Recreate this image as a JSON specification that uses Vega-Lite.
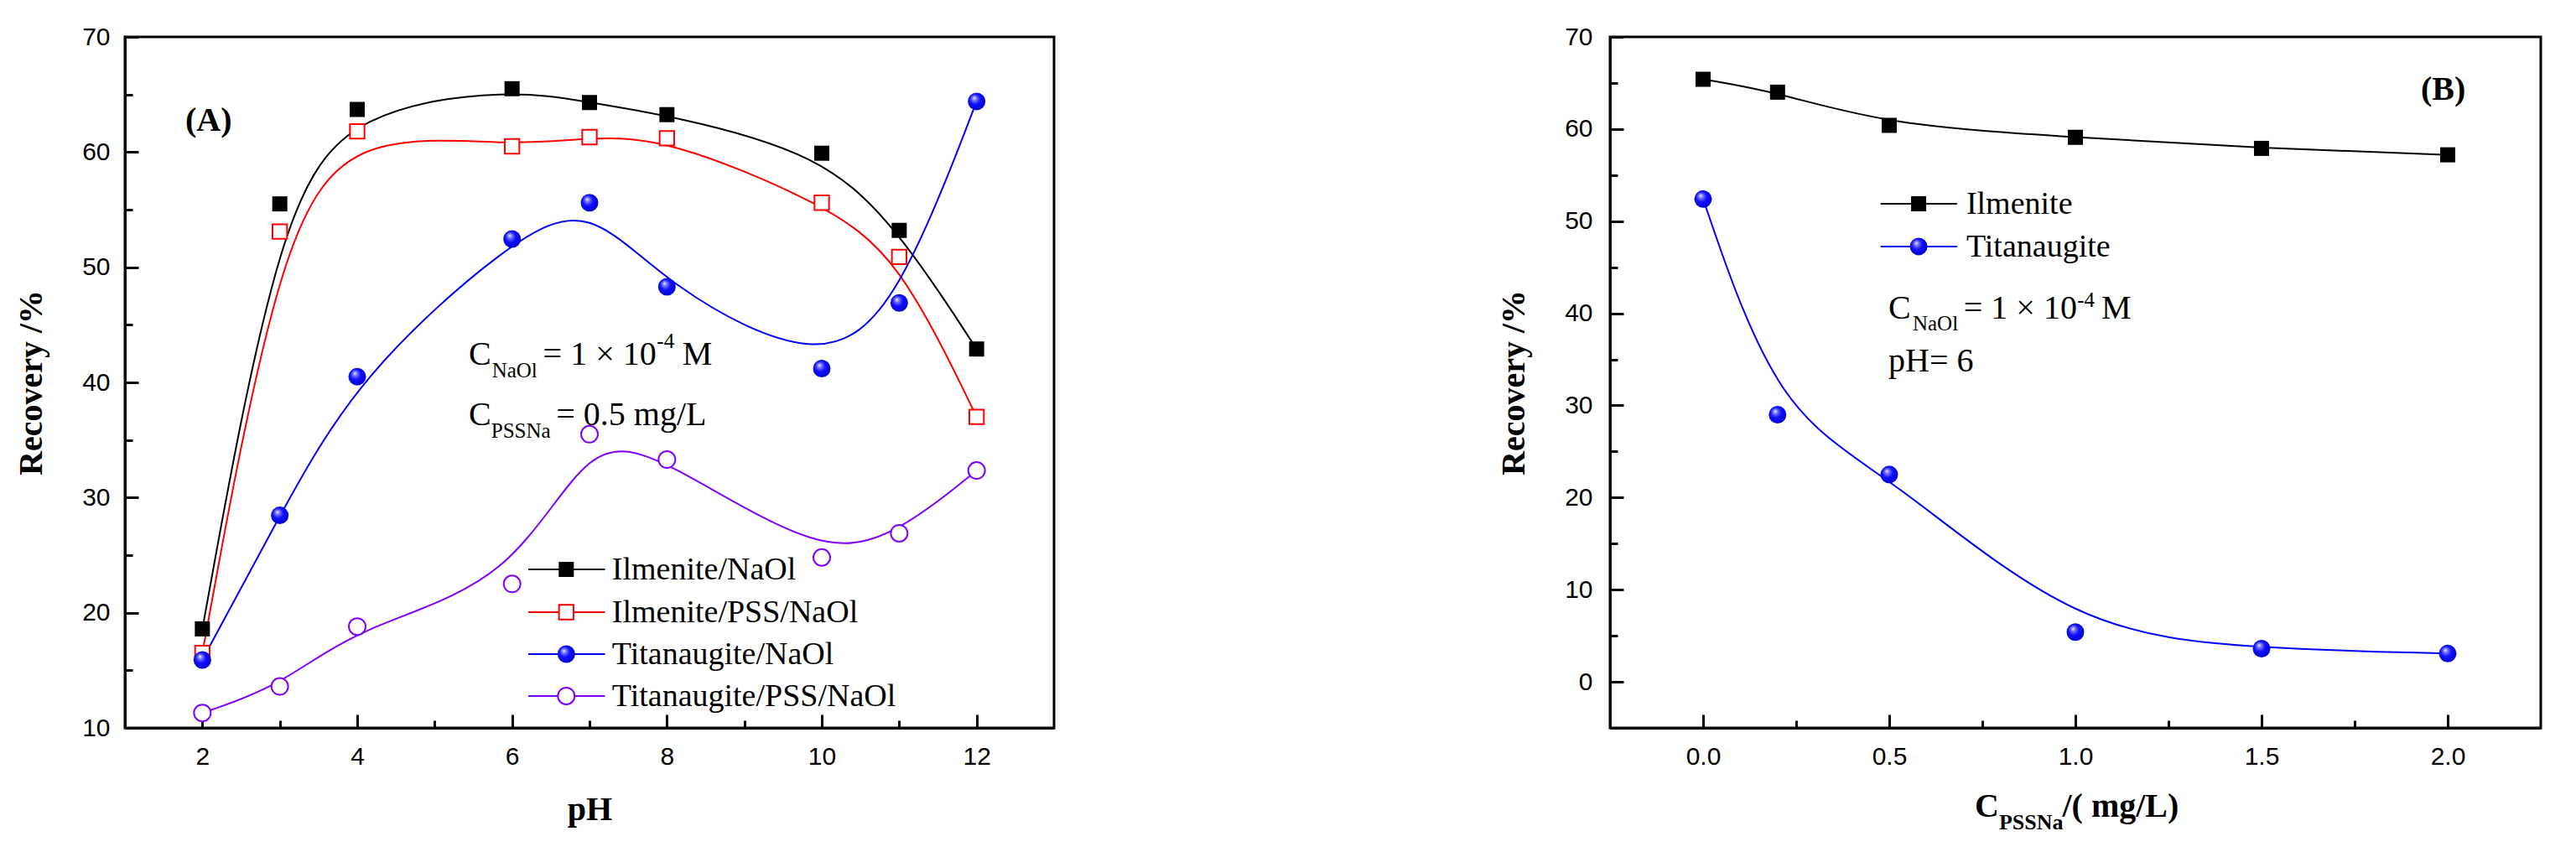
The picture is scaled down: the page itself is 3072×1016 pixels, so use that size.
{
  "$schema": "https://vega.github.io/schema/vega-lite/v6.json",
  "background": "white",
  "padding": {"left": 16, "top": 27, "right": 5, "bottom": 5},
  "spacing": 525,
  "resolve": {"scale": {"color": "independent"}},
  "config": {
    "view": {"stroke": "black", "strokeWidth": 3},
    "axis": {
      "grid": false, "domainColor": "black", "domainWidth": 3,
      "tickColor": "black", "tickWidth": 3,
      "labelFont": "Liberation Sans", "labelFontSize": 30, "labelColor": "black",
      "titleFont": "Liberation Serif", "titleFontSize": 40, "titleFontWeight": "bold", "titleColor": "black",
      "labelOverlap": false, "labelFlush": false
    },
    "text": {"font": "Liberation Serif", "color": "black", "align": "left", "baseline": "alphabetic"}
  },
  "datasets": {
    "A": [
      {"series": "Ilmenite/NaOl", "pH": 2, "rec": 18.6},
      {"series": "Ilmenite/NaOl", "pH": 3, "rec": 55.5},
      {"series": "Ilmenite/NaOl", "pH": 4, "rec": 63.7},
      {"series": "Ilmenite/NaOl", "pH": 6, "rec": 65.5},
      {"series": "Ilmenite/NaOl", "pH": 7, "rec": 64.3},
      {"series": "Ilmenite/NaOl", "pH": 8, "rec": 63.25},
      {"series": "Ilmenite/NaOl", "pH": 10, "rec": 59.9},
      {"series": "Ilmenite/NaOl", "pH": 11, "rec": 53.2},
      {"series": "Ilmenite/NaOl", "pH": 12, "rec": 42.9},
      {"series": "Ilmenite/PSS/NaOl", "pH": 2, "rec": 16.5},
      {"series": "Ilmenite/PSS/NaOl", "pH": 3, "rec": 53.1},
      {"series": "Ilmenite/PSS/NaOl", "pH": 4, "rec": 61.8},
      {"series": "Ilmenite/PSS/NaOl", "pH": 6, "rec": 60.5},
      {"series": "Ilmenite/PSS/NaOl", "pH": 7, "rec": 61.3},
      {"series": "Ilmenite/PSS/NaOl", "pH": 8, "rec": 61.2},
      {"series": "Ilmenite/PSS/NaOl", "pH": 10, "rec": 55.6},
      {"series": "Ilmenite/PSS/NaOl", "pH": 11, "rec": 50.9},
      {"series": "Ilmenite/PSS/NaOl", "pH": 12, "rec": 37.0},
      {"series": "Titanaugite/NaOl", "pH": 2, "rec": 15.9},
      {"series": "Titanaugite/NaOl", "pH": 3, "rec": 28.45},
      {"series": "Titanaugite/NaOl", "pH": 4, "rec": 40.5},
      {"series": "Titanaugite/NaOl", "pH": 6, "rec": 52.45},
      {"series": "Titanaugite/NaOl", "pH": 7, "rec": 55.6},
      {"series": "Titanaugite/NaOl", "pH": 8, "rec": 48.3},
      {"series": "Titanaugite/NaOl", "pH": 10, "rec": 41.2},
      {"series": "Titanaugite/NaOl", "pH": 11, "rec": 46.9},
      {"series": "Titanaugite/NaOl", "pH": 12, "rec": 64.4},
      {"series": "Titanaugite/PSS/NaOl", "pH": 2, "rec": 11.3},
      {"series": "Titanaugite/PSS/NaOl", "pH": 3, "rec": 13.6},
      {"series": "Titanaugite/PSS/NaOl", "pH": 4, "rec": 18.8},
      {"series": "Titanaugite/PSS/NaOl", "pH": 6, "rec": 22.5},
      {"series": "Titanaugite/PSS/NaOl", "pH": 7, "rec": 35.5},
      {"series": "Titanaugite/PSS/NaOl", "pH": 8, "rec": 33.3},
      {"series": "Titanaugite/PSS/NaOl", "pH": 10, "rec": 24.8},
      {"series": "Titanaugite/PSS/NaOl", "pH": 11, "rec": 26.9},
      {"series": "Titanaugite/PSS/NaOl", "pH": 12, "rec": 32.35}
    ],
    "legA": [
      {"series": "Ilmenite/NaOl", "x1": 6.21, "x2": 7.2, "xm": 6.7, "xt": 7.29, "y": 23.76},
      {"series": "Ilmenite/PSS/NaOl", "x1": 6.21, "x2": 7.2, "xm": 6.7, "xt": 7.29, "y": 20.05},
      {"series": "Titanaugite/NaOl", "x1": 6.21, "x2": 7.2, "xm": 6.7, "xt": 7.29, "y": 16.41},
      {"series": "Titanaugite/PSS/NaOl", "x1": 6.21, "x2": 7.2, "xm": 6.7, "xt": 7.29, "y": 12.77}
    ],
    "annA": [
      {"kind": "bold", "text": "(A)", "x": 1.78, "y": 61.84},
      {"kind": "main", "text": "C", "x": 5.44, "y": 41.53},
      {"kind": "sub", "text": "NaOl", "x": 5.74, "y": 40.44},
      {"kind": "main", "text": "= 1 × 10", "x": 6.4, "y": 41.53},
      {"kind": "sub", "text": "-4", "x": 7.87, "y": 42.99},
      {"kind": "main", "text": "M", "x": 8.2, "y": 41.53},
      {"kind": "main", "text": "C", "x": 5.44, "y": 36.3},
      {"kind": "sub", "text": "PSSNa", "x": 5.73, "y": 35.2},
      {"kind": "main", "text": "= 0.5 mg/L", "x": 6.57, "y": 36.3}
    ],
    "B": [
      {"series": "Ilmenite", "c": 0, "rec": 65.4},
      {"series": "Ilmenite", "c": 0.2, "rec": 64.0},
      {"series": "Ilmenite", "c": 0.5, "rec": 60.4},
      {"series": "Ilmenite", "c": 1.0, "rec": 59.1},
      {"series": "Ilmenite", "c": 1.5, "rec": 57.9},
      {"series": "Ilmenite", "c": 2.0, "rec": 57.2},
      {"series": "Titanaugite", "c": 0, "rec": 52.4},
      {"series": "Titanaugite", "c": 0.2, "rec": 29.0},
      {"series": "Titanaugite", "c": 0.5, "rec": 22.5},
      {"series": "Titanaugite", "c": 1.0, "rec": 5.4},
      {"series": "Titanaugite", "c": 1.5, "rec": 3.6},
      {"series": "Titanaugite", "c": 2.0, "rec": 3.07}
    ],
    "legB": [
      {"series": "Ilmenite", "x1": 0.477, "x2": 0.682, "xm": 0.579, "xt": 0.707, "y": 51.89},
      {"series": "Titanaugite", "x1": 0.477, "x2": 0.682, "xm": 0.579, "xt": 0.707, "y": 47.25}
    ],
    "annB": [
      {"kind": "bold", "text": "(B)", "x": 1.928, "y": 63.17},
      {"kind": "main", "text": "C", "x": 0.498, "y": 39.42},
      {"kind": "sub", "text": "NaOl", "x": 0.563, "y": 38.14},
      {"kind": "main", "text": "= 1 × 10", "x": 0.7, "y": 39.42},
      {"kind": "sub", "text": "-4", "x": 1.005, "y": 40.69},
      {"kind": "main", "text": "M", "x": 1.07, "y": 39.42},
      {"kind": "main", "text": "pH= 6", "x": 0.498, "y": 33.68},
      {"kind": "bold", "text": "C", "x": 0.73, "y": -14.65},
      {"kind": "boldsub", "text": "PSSNa", "x": 0.795, "y": -16.0},
      {"kind": "bold", "text": "/(  mg/L)", "x": 0.965, "y": -14.65}
    ]
  },
  "hconcat": [
    {
      "width": 1108,
      "height": 824,
      "layer": [
        {
          "data": {"name": "A"},
          "mark": {"type": "line", "interpolate": "basis", "strokeWidth": 2},
          "encoding": {
            "x": {
              "field": "pH", "type": "quantitative",
              "scale": {"domain": [1, 13], "nice": false, "zero": false},
              "axis": {
                "title": "pH", "values": [2, 3, 4, 5, 6, 7, 8, 9, 10, 11, 12],
                "labelExpr": "datum.value % 2 === 0 ? format(datum.value, 'd') : ''",
                "tickSize": {"condition": {"test": "datum.value % 2 === 0", "value": -16}, "value": -9},
                "labelPadding": 35, "titlePadding": 21
              }
            },
            "y": {
              "field": "rec", "type": "quantitative",
              "scale": {"domain": [10, 70], "nice": false, "zero": false},
              "axis": {
                "title": "Recovery /%", "values": [10, 15, 20, 25, 30, 35, 40, 45, 50, 55, 60, 65, 70],
                "labelExpr": "datum.value % 10 === 0 ? format(datum.value, 'd') : ''",
                "tickSize": {"condition": {"test": "datum.value % 10 === 0", "value": -16}, "value": -9},
                "labelPadding": 34, "titlePadding": 40
              }
            },
            "color": {
              "field": "series", "type": "nominal",
              "scale": {"domain": ["Ilmenite/NaOl", "Ilmenite/PSS/NaOl", "Titanaugite/NaOl", "Titanaugite/PSS/NaOl"], "range": ["#000000", "#ff0000", "#0000ff", "#8000ff"]},
              "legend": null
            }
          }
        },
        {
          "data": {"name": "legA"},
          "mark": {"type": "rule", "strokeWidth": 2},
          "encoding": {
            "x": {"field": "x1", "type": "quantitative"},
            "x2": {"field": "x2"},
            "y": {"field": "y", "type": "quantitative"},
            "color": {"field": "series", "type": "nominal", "legend": null}
          }
        },
        {
          "data": {"name": "A"},
          "transform": [{"filter": "datum.series === 'Ilmenite/NaOl'"}],
          "mark": {"type": "point", "shape": "square", "filled": true, "fill": "#000000", "strokeWidth": 0, "size": 324, "opacity": 1},
          "encoding": {"x": {"field": "pH", "type": "quantitative"}, "y": {"field": "rec", "type": "quantitative"}}
        },
        {
          "data": {"name": "A"},
          "transform": [{"filter": "datum.series === 'Ilmenite/PSS/NaOl'"}],
          "mark": {"type": "point", "shape": "square", "filled": true, "fill": "#ffffff", "stroke": "#ff0000", "strokeWidth": 2, "size": 300, "opacity": 1},
          "encoding": {"x": {"field": "pH", "type": "quantitative"}, "y": {"field": "rec", "type": "quantitative"}}
        },
        {
          "data": {"name": "A"},
          "transform": [{"filter": "datum.series === 'Titanaugite/NaOl'"}],
          "mark": {"type": "point", "shape": "circle", "filled": true, "strokeWidth": 0, "size": 441, "opacity": 1,
            "fill": {"gradient": "radial", "x1": 0.36, "y1": 0.3, "r1": 0, "x2": 0.45, "y2": 0.45, "r2": 0.6,
              "stops": [{"offset": 0, "color": "#f4f4ff"}, {"offset": 0.2, "color": "#7a7aff"}, {"offset": 0.5, "color": "#1010ff"}, {"offset": 1, "color": "#0000c8"}]}},
          "encoding": {"x": {"field": "pH", "type": "quantitative"}, "y": {"field": "rec", "type": "quantitative"}}
        },
        {
          "data": {"name": "A"},
          "transform": [{"filter": "datum.series === 'Titanaugite/PSS/NaOl'"}],
          "mark": {"type": "point", "shape": "circle", "filled": true, "fill": "#ffffff", "stroke": "#8000ff", "strokeWidth": 2, "size": 400, "opacity": 1},
          "encoding": {"x": {"field": "pH", "type": "quantitative"}, "y": {"field": "rec", "type": "quantitative"}}
        },
        {
          "data": {"name": "legA"},
          "transform": [{"filter": "datum.series === 'Ilmenite/NaOl'"}],
          "mark": {"type": "point", "shape": "square", "filled": true, "fill": "#000000", "strokeWidth": 0, "size": 324, "opacity": 1},
          "encoding": {"x": {"field": "xm", "type": "quantitative"}, "y": {"field": "y", "type": "quantitative"}}
        },
        {
          "data": {"name": "legA"},
          "transform": [{"filter": "datum.series === 'Ilmenite/PSS/NaOl'"}],
          "mark": {"type": "point", "shape": "square", "filled": true, "fill": "#ffffff", "stroke": "#ff0000", "strokeWidth": 2, "size": 300, "opacity": 1},
          "encoding": {"x": {"field": "xm", "type": "quantitative"}, "y": {"field": "y", "type": "quantitative"}}
        },
        {
          "data": {"name": "legA"},
          "transform": [{"filter": "datum.series === 'Titanaugite/NaOl'"}],
          "mark": {"type": "point", "shape": "circle", "filled": true, "strokeWidth": 0, "size": 441, "opacity": 1,
            "fill": {"gradient": "radial", "x1": 0.36, "y1": 0.3, "r1": 0, "x2": 0.45, "y2": 0.45, "r2": 0.6,
              "stops": [{"offset": 0, "color": "#f4f4ff"}, {"offset": 0.2, "color": "#7a7aff"}, {"offset": 0.5, "color": "#1010ff"}, {"offset": 1, "color": "#0000c8"}]}},
          "encoding": {"x": {"field": "xm", "type": "quantitative"}, "y": {"field": "y", "type": "quantitative"}}
        },
        {
          "data": {"name": "legA"},
          "transform": [{"filter": "datum.series === 'Titanaugite/PSS/NaOl'"}],
          "mark": {"type": "point", "shape": "circle", "filled": true, "fill": "#ffffff", "stroke": "#8000ff", "strokeWidth": 2, "size": 400, "opacity": 1},
          "encoding": {"x": {"field": "xm", "type": "quantitative"}, "y": {"field": "y", "type": "quantitative"}}
        },
        {
          "data": {"name": "legA"},
          "mark": {"type": "text", "fontSize": 38, "baseline": "middle", "dy": 1},
          "encoding": {"x": {"field": "xt", "type": "quantitative"}, "y": {"field": "y", "type": "quantitative"}, "text": {"field": "series"}}
        },
        {
          "data": {"name": "annA"},
          "transform": [{"filter": "datum.kind === 'main'"}],
          "mark": {"type": "text", "fontSize": 40},
          "encoding": {"x": {"field": "x", "type": "quantitative"}, "y": {"field": "y", "type": "quantitative"}, "text": {"field": "text"}}
        },
        {
          "data": {"name": "annA"},
          "transform": [{"filter": "datum.kind === 'sub'"}],
          "mark": {"type": "text", "fontSize": 25},
          "encoding": {"x": {"field": "x", "type": "quantitative"}, "y": {"field": "y", "type": "quantitative"}, "text": {"field": "text"}}
        },
        {
          "data": {"name": "annA"},
          "transform": [{"filter": "datum.kind === 'bold'"}],
          "mark": {"type": "text", "fontSize": 40, "fontWeight": "bold"},
          "encoding": {"x": {"field": "x", "type": "quantitative"}, "y": {"field": "y", "type": "quantitative"}, "text": {"field": "text"}}
        }
      ]
    },
    {
      "width": 1110,
      "height": 824,
      "layer": [
        {
          "data": {"name": "B"},
          "mark": {"type": "line", "interpolate": "basis", "strokeWidth": 2},
          "encoding": {
            "x": {
              "field": "c", "type": "quantitative",
              "scale": {"domain": [-0.25, 2.25], "nice": false, "zero": false},
              "axis": {
                "title": null, "values": [0, 0.25, 0.5, 0.75, 1, 1.25, 1.5, 1.75, 2],
                "labelExpr": "datum.value % 0.5 === 0 ? format(datum.value, '.1f') : ''",
                "tickSize": {"condition": {"test": "datum.value % 0.5 === 0", "value": -16}, "value": -9},
                "labelPadding": 35
              }
            },
            "y": {
              "field": "rec", "type": "quantitative",
              "scale": {"domain": [-5, 70], "nice": false, "zero": false},
              "axis": {
                "title": "Recovery /%", "values": [0, 5, 10, 15, 20, 25, 30, 35, 40, 45, 50, 55, 60, 65, 70],
                "labelExpr": "datum.value % 10 === 0 ? format(datum.value, 'd') : ''",
                "tickSize": {"condition": {"test": "datum.value % 10 === 0", "value": -16}, "value": -9},
                "labelPadding": 37, "titlePadding": 40
              }
            },
            "color": {
              "field": "series", "type": "nominal",
              "scale": {"domain": ["Ilmenite", "Titanaugite"], "range": ["#000000", "#0000ff"]},
              "legend": null
            }
          }
        },
        {
          "data": {"name": "legB"},
          "mark": {"type": "rule", "strokeWidth": 2},
          "encoding": {
            "x": {"field": "x1", "type": "quantitative"},
            "x2": {"field": "x2"},
            "y": {"field": "y", "type": "quantitative"},
            "color": {"field": "series", "type": "nominal", "legend": null}
          }
        },
        {
          "data": {"name": "B"},
          "transform": [{"filter": "datum.series === 'Ilmenite'"}],
          "mark": {"type": "point", "shape": "square", "filled": true, "fill": "#000000", "strokeWidth": 0, "size": 324, "opacity": 1},
          "encoding": {"x": {"field": "c", "type": "quantitative"}, "y": {"field": "rec", "type": "quantitative"}}
        },
        {
          "data": {"name": "B"},
          "transform": [{"filter": "datum.series === 'Titanaugite'"}],
          "mark": {"type": "point", "shape": "circle", "filled": true, "strokeWidth": 0, "size": 441, "opacity": 1,
            "fill": {"gradient": "radial", "x1": 0.36, "y1": 0.3, "r1": 0, "x2": 0.45, "y2": 0.45, "r2": 0.6,
              "stops": [{"offset": 0, "color": "#f4f4ff"}, {"offset": 0.2, "color": "#7a7aff"}, {"offset": 0.5, "color": "#1010ff"}, {"offset": 1, "color": "#0000c8"}]}},
          "encoding": {"x": {"field": "c", "type": "quantitative"}, "y": {"field": "rec", "type": "quantitative"}}
        },
        {
          "data": {"name": "legB"},
          "transform": [{"filter": "datum.series === 'Ilmenite'"}],
          "mark": {"type": "point", "shape": "square", "filled": true, "fill": "#000000", "strokeWidth": 0, "size": 324, "opacity": 1},
          "encoding": {"x": {"field": "xm", "type": "quantitative"}, "y": {"field": "y", "type": "quantitative"}}
        },
        {
          "data": {"name": "legB"},
          "transform": [{"filter": "datum.series === 'Titanaugite'"}],
          "mark": {"type": "point", "shape": "circle", "filled": true, "strokeWidth": 0, "size": 441, "opacity": 1,
            "fill": {"gradient": "radial", "x1": 0.36, "y1": 0.3, "r1": 0, "x2": 0.45, "y2": 0.45, "r2": 0.6,
              "stops": [{"offset": 0, "color": "#f4f4ff"}, {"offset": 0.2, "color": "#7a7aff"}, {"offset": 0.5, "color": "#1010ff"}, {"offset": 1, "color": "#0000c8"}]}},
          "encoding": {"x": {"field": "xm", "type": "quantitative"}, "y": {"field": "y", "type": "quantitative"}}
        },
        {
          "data": {"name": "legB"},
          "mark": {"type": "text", "fontSize": 38, "baseline": "middle", "dy": 1},
          "encoding": {"x": {"field": "xt", "type": "quantitative"}, "y": {"field": "y", "type": "quantitative"}, "text": {"field": "series"}}
        },
        {
          "data": {"name": "annB"},
          "transform": [{"filter": "datum.kind === 'main'"}],
          "mark": {"type": "text", "fontSize": 40},
          "encoding": {"x": {"field": "x", "type": "quantitative"}, "y": {"field": "y", "type": "quantitative"}, "text": {"field": "text"}}
        },
        {
          "data": {"name": "annB"},
          "transform": [{"filter": "datum.kind === 'sub'"}],
          "mark": {"type": "text", "fontSize": 25},
          "encoding": {"x": {"field": "x", "type": "quantitative"}, "y": {"field": "y", "type": "quantitative"}, "text": {"field": "text"}}
        },
        {
          "data": {"name": "annB"},
          "transform": [{"filter": "datum.kind === 'bold'"}],
          "mark": {"type": "text", "fontSize": 40, "fontWeight": "bold"},
          "encoding": {"x": {"field": "x", "type": "quantitative"}, "y": {"field": "y", "type": "quantitative"}, "text": {"field": "text"}}
        },
        {
          "data": {"name": "annB"},
          "transform": [{"filter": "datum.kind === 'boldsub'"}],
          "mark": {"type": "text", "fontSize": 26, "fontWeight": "bold"},
          "encoding": {"x": {"field": "x", "type": "quantitative"}, "y": {"field": "y", "type": "quantitative"}, "text": {"field": "text"}}
        }
      ]
    }
  ]
}
